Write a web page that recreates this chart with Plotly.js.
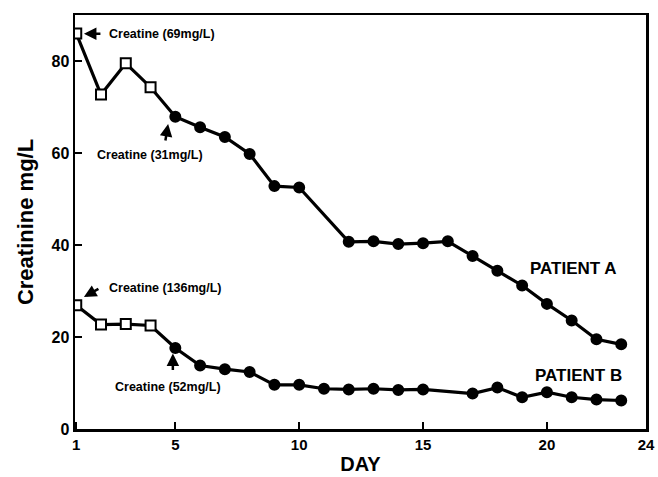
<!DOCTYPE html>
<html>
<head>
<meta charset="utf-8">
<script src="https://cdn.plot.ly/plotly-3.0.1.min.js"></script>
<style>html,body{margin:0;padding:0;background:#fff}#chart{width:658px;height:477px}</style>
</head>
<body>
<div id="chart"></div>
<script>
const daysA = [1,2,3,4,5,6,7,8,9,10,12,13,14,15,16,17,18,19,20,21,22,23];
const creatinineA = [86,72.7,79.5,74.3,67.9,65.6,63.5,59.8,52.8,52.5,40.7,40.8,40.2,40.4,40.8,37.6,34.4,31.2,27.2,23.6,19.5,18.4];
const daysB = [1,2,3,4,5,6,7,8,9,10,11,12,13,14,15,17,18,19,20,21,22,23];
const creatinineB = [26.9,22.7,22.8,22.5,17.6,13.8,13.0,12.4,9.6,9.6,8.75,8.6,8.75,8.5,8.6,7.7,9.0,6.9,8.0,6.9,6.4,6.2];
const lastCreatineDay = 4;
const xTicks = [1,5,10,15,20,24];
const yTicks = [0,20,40,60,80];

const FONT = 'Liberation Sans, Arial, Helvetica, sans-serif';

function mkTrace(days, vals, name) {
  const open = days.map(d => d <= lastCreatineDay);
  return {
    x: days, y: vals, name: name, type: 'scatter', mode: 'lines+markers',
    line: {color: '#000', width: 3.2},
    marker: {
      symbol: open.map(o => o ? 'square' : 'circle'),
      color: open.map(o => o ? '#fff' : '#000'),
      size: 10,
      opacity: 1,
      line: {color: '#000', width: 2}
    },
    hoverinfo: 'x+y'
  };
}

const annFont = {family: FONT, size: 12.5, color: '#000', weight: 'bold'};
const bigFont = {family: FONT, size: 17, color: '#000', weight: 'bold'};
function arrow(x, y, ax, ay) {
  return {x: x, y: y, xref: 'x', yref: 'y', text: '', showarrow: true,
    arrowhead: 2, arrowsize: 1, arrowwidth: 2.5, arrowcolor: '#000', ax: ax, ay: ay, standoff: 0};
}
function label(x, y, text, font) {
  return {x: x, y: y, xref: 'x', yref: 'y', text: text, showarrow: false,
    xanchor: 'left', yanchor: 'middle', font: font};
}

const layout = {
  width: 658, height: 477,
  margin: {l: 75, r: 12, t: 15, b: 48},
  paper_bgcolor: '#fff', plot_bgcolor: '#fff',
  showlegend: false,
  font: {family: FONT, color: '#000'},
  xaxis: {
    range: [0.95, 24], tickvals: xTicks, ticktext: xTicks.map(String),
    ticks: 'inside', ticklen: 7, tickwidth: 2, tickcolor: '#000',
    showline: true, linewidth: 2.5, linecolor: '#000', mirror: true,
    showgrid: false, zeroline: false,
    tickfont: {family: FONT, size: 15, color: '#000', weight: 'bold'},
    title: {text: 'DAY', font: {family: FONT, size: 20, color: '#000', weight: 'bold'}, standoff: 6}
  },
  yaxis: {
    range: [0, 90], tickvals: yTicks, ticktext: yTicks.map(String),
    ticks: 'inside', ticklen: 7, tickwidth: 2, tickcolor: '#000',
    showline: true, linewidth: 2.5, linecolor: '#000', mirror: true,
    showgrid: false, zeroline: false,
    tickfont: {family: FONT, size: 16, color: '#000', weight: 'bold'},
    title: {text: 'Creatinine mg/L', font: {family: FONT, size: 22, color: '#000', weight: 'bold'}, standoff: 12}
  },
  annotations: [
    arrow(1.31, 85.9, 18, 0),
    label(2.24, 85.9, 'Creatine (69mg/L)', annFont),
    arrow(4.71, 66.3, -3, 18),
    label(1.76, 59.6, 'Creatine (31mg/L)', annFont),
    arrow(1.31, 28.7, 16, -9),
    label(2.24, 30.65, 'Creatine (136mg/L)', annFont),
    arrow(4.9, 16.4, 0, 18),
    label(2.49, 9.1, 'Creatine (52mg/L)', annFont),
    label(19.24, 35, 'PATIENT A', bigFont),
    label(19.44, 11.7, 'PATIENT B', bigFont)
  ]
};

Plotly.newPlot('chart', [mkTrace(daysA, creatinineA, 'Patient A'), mkTrace(daysB, creatinineB, 'Patient B')], layout, {staticPlot: true, displayModeBar: false});
</script>
</body>
</html>
